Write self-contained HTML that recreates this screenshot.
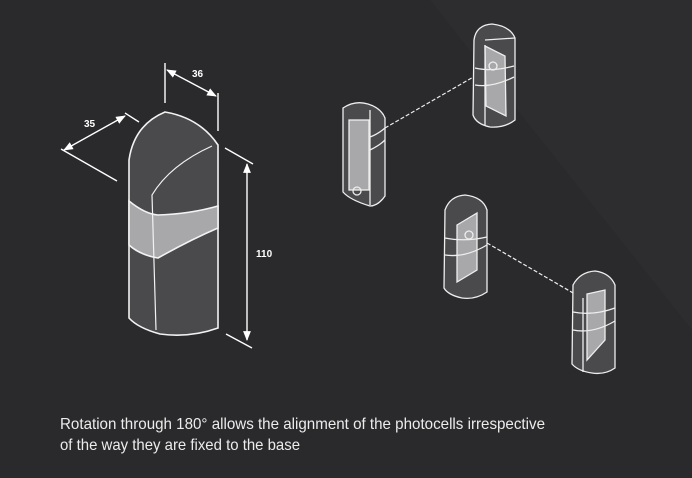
<!DOCTYPE html>
<html><head><meta charset="utf-8"><style>
html,body{margin:0;padding:0;background:#2a292b;}
svg{display:block}
</style></head><body>
<svg width="692" height="478" viewBox="0 0 692 478" xmlns="http://www.w3.org/2000/svg">
<defs>
<marker id="ar" viewBox="0 0 10 10" refX="9" refY="5" markerWidth="7" markerHeight="7" orient="auto-start-reverse"><path d="M0,1 L10,5 L0,9 z" fill="#fff"/></marker>
</defs>
<rect width="692" height="478" fill="#2a292b"/>
<polygon points="430,0 692,0 692,330" fill="#2d2c2e"/>

<!-- main body -->
<path d="M129,160 Q134,125 165,112 Q200,118 218,145 L218,328 Q190,338 160,334 Q138,328 129,318 Z" fill="#4a4a4c" stroke="#f2f2f2" stroke-width="1.6"/>
<path d="M129,201 Q145,214 158,215 Q190,214 218,206 L218,228 Q190,240 158,258 Q140,255 129,245 Z" fill="#a8a8aa" stroke="#f2f2f2" stroke-width="1.6"/>
<path d="M212,146 Q170,165 152,195 L156,330" fill="none" stroke="#f2f2f2" stroke-width="1.2"/>

<!-- dimensions -->
<g stroke="#fff" stroke-width="1.4" fill="none">
<line x1="165" y1="63" x2="165" y2="103"/>
<line x1="218" y1="93" x2="218" y2="131"/>
<line x1="167" y1="70" x2="216" y2="96" marker-start="url(#ar)" marker-end="url(#ar)"/>
<line x1="61" y1="149" x2="117" y2="181"/>
<line x1="125" y1="113" x2="139" y2="122"/>
<line x1="64" y1="150" x2="125" y2="116" marker-start="url(#ar)" marker-end="url(#ar)"/>
<line x1="225" y1="148" x2="253" y2="164"/>
<line x1="226" y1="334" x2="252" y2="348"/>
<line x1="247" y1="164" x2="247" y2="340" marker-start="url(#ar)" marker-end="url(#ar)"/>
</g>
<g fill="#fff" font-family="Liberation Sans, sans-serif" font-size="10" font-weight="bold">
<text x="192" y="77">36</text>
<text x="84" y="127">35</text>
<text x="256" y="257">110</text>
</g>

<!-- dashed beams -->
<g stroke="#eee" stroke-width="1.2" stroke-dasharray="4,2" fill="none">
<line x1="385" y1="128" x2="482" y2="72"/>
<line x1="487" y1="243" x2="580" y2="297"/>
</g>

<!-- unit A -->
<g stroke="#eee" stroke-width="1.3">
<path d="M343,108 Q355,100 368,104 Q381,108 385,118 L385,196 Q378,206 370,206 Q350,200 343,192 Z" fill="#4a4a4c"/>
<rect x="349" y="120" width="20" height="70" fill="#a8a8aa"/>
<path d="M370,110 L370,205 M370,137 Q378,134 385,128 M370,150 Q380,145 385,140" fill="none"/>
<circle cx="357" cy="191" r="4" fill="none"/>
</g>

<!-- unit B -->
<g stroke="#eee" stroke-width="1.3">
<path d="M474,40 Q476,25 492,24 Q510,26 515,38 L515,120 Q505,128 490,127 Q476,124 473,115 Z" fill="#4a4a4c"/>
<path d="M485,46 L505,56 L506,116 L486,106 Z" fill="#a8a8aa"/>
<path d="M475,68 Q492,72 514,66 M475,85 Q492,88 514,77 M485,40 L515,38 M485,45 L485,126" fill="none"/>
<circle cx="493" cy="66" r="4" fill="none"/>
</g>

<!-- unit C -->
<g stroke="#eee" stroke-width="1.3">
<path d="M445,210 Q450,196 465,195 Q483,197 487,210 L487,292 Q475,300 462,298 Q448,295 444,288 Z" fill="#4a4a4c"/>
<path d="M457,225 L477,213 L477,270 L457,282 Z" fill="#a8a8aa"/>
<path d="M445,238 Q465,242 487,237 M445,255 Q465,258 487,245" fill="none"/>
<circle cx="469" cy="235" r="4" fill="none"/>
</g>

<!-- unit D -->
<g stroke="#eee" stroke-width="1.3">
<path d="M573,285 Q580,272 595,271 Q610,273 615,285 L615,368 Q605,375 592,373 Q578,371 572,364 Z" fill="#4a4a4c"/>
<path d="M587,294 L605,290 L605,340 L587,360 Z" fill="#a8a8aa"/>
<path d="M573,312 Q593,316 615,308 M573,330 Q593,334 615,321 M583,298 L583,372" fill="none"/>
</g>

<g fill="#ececec" font-family="Liberation Sans, sans-serif" font-size="16">
<text x="60" y="429" textLength="485" lengthAdjust="spacingAndGlyphs">Rotation through 180° allows the alignment of the photocells irrespective</text>
<text x="60" y="450" textLength="240" lengthAdjust="spacingAndGlyphs">of the way they are fixed to the base</text>
</g>
</svg>
</body></html>
